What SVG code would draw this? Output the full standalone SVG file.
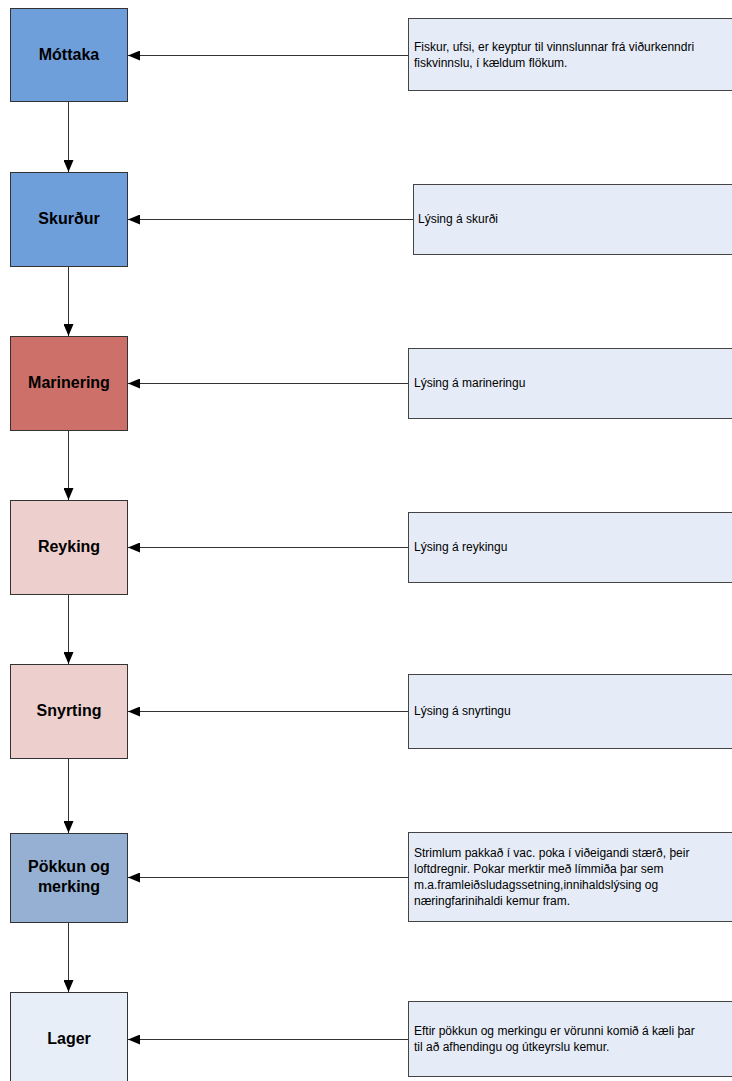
<svg xmlns="http://www.w3.org/2000/svg" width="732" height="1081" viewBox="0 0 732 1081">
<style>
.node{stroke:#333;stroke-width:1}
.desc{fill:#e6ecf7;stroke:#444;stroke-width:1}
.lbl{font-family:"Liberation Sans",Arial,sans-serif;font-weight:bold;font-size:16px;fill:#000;text-anchor:middle}
.txt{font-family:"Liberation Sans",Arial,sans-serif;font-size:12px;fill:#000}
.con{stroke:#333;stroke-width:1;fill:none;marker-end:url(#ah)}
</style>
<defs>
<marker id="ah" markerWidth="12" markerHeight="10" refX="12" refY="5" orient="auto" markerUnits="userSpaceOnUse">
<path d="M0,0 L12,5 L0,10 z" fill="#000"/>
</marker>
</defs>
<rect width="732" height="1081" fill="#fff"/>
<g id="connectors">
<line class="con" x1="68.5" y1="101" x2="68.5" y2="172"/>
<line class="con" x1="68.5" y1="266" x2="68.5" y2="336"/>
<line class="con" x1="68.5" y1="430" x2="68.5" y2="500"/>
<line class="con" x1="68.5" y1="594" x2="68.5" y2="664"/>
<line class="con" x1="68.5" y1="758" x2="68.5" y2="833"/>
<line class="con" x1="68.5" y1="922" x2="68.5" y2="992"/>
<line class="con" x1="408" y1="55.5" x2="128" y2="55.5"/>
<line class="con" x1="413" y1="219.5" x2="128" y2="219.5"/>
<line class="con" x1="408" y1="383.5" x2="128" y2="383.5"/>
<line class="con" x1="408" y1="547.5" x2="128" y2="547.5"/>
<line class="con" x1="408" y1="711.5" x2="128" y2="711.5"/>
<line class="con" x1="408" y1="877.5" x2="128" y2="877.5"/>
<line class="con" x1="408" y1="1039.5" x2="128" y2="1039.5"/>
</g>
<g id="n1"><rect class="node" x="10.5" y="8.5" width="117" height="93" fill="#6f9fdb"/><text class="lbl" x="69" y="60">Móttaka</text></g>
<g id="n2"><rect class="node" x="10.5" y="172.5" width="117" height="94" fill="#6f9fdb"/><text class="lbl" x="69" y="224">Skurður</text></g>
<g id="n3"><rect class="node" x="10.5" y="336.5" width="117" height="94" fill="#cd706a"/><text class="lbl" x="69" y="388">Marinering</text></g>
<g id="n4"><rect class="node" x="10.5" y="500.5" width="117" height="94" fill="#edcfcd"/><text class="lbl" x="69" y="552">Reyking</text></g>
<g id="n5"><rect class="node" x="10.5" y="664.5" width="117" height="94" fill="#edcfcd"/><text class="lbl" x="69" y="716">Snyrting</text></g>
<g id="n6"><rect class="node" x="10.5" y="833.5" width="117" height="89" fill="#95b0d2"/><text class="lbl" x="69" y="872">Pökkun og</text><text class="lbl" x="69" y="892">merking</text></g>
<g id="n7"><rect class="node" x="10.5" y="992.5" width="117" height="100" fill="#e8eef8"/><text class="lbl" x="69" y="1044">Lager</text></g>
<g id="d1"><rect class="desc" x="408.5" y="18.5" width="330" height="72"/><text class="txt" x="414" y="51">Fiskur, ufsi, er keyptur til vinnslunnar frá viðurkenndri</text><text class="txt" x="414" y="67">fiskvinnslu, í kældum flökum.</text></g>
<g id="d2"><rect class="desc" x="413.5" y="184.5" width="330" height="70"/><text class="txt" x="418" y="223">Lýsing á skurði</text></g>
<g id="d3"><rect class="desc" x="408.5" y="348.5" width="330" height="70"/><text class="txt" x="414" y="387">Lýsing á marineringu</text></g>
<g id="d4"><rect class="desc" x="408.5" y="512.5" width="330" height="70"/><text class="txt" x="414" y="551">Lýsing á reykingu</text></g>
<g id="d5"><rect class="desc" x="408.5" y="674.5" width="330" height="74"/><text class="txt" x="414" y="715">Lýsing á snyrtingu</text></g>
<g id="d6"><rect class="desc" x="408.5" y="832.5" width="330" height="89"/><text class="txt" x="414" y="857">Strimlum pakkað í vac. poka í viðeigandi stærð, þeir</text><text class="txt" x="414" y="873">loftdregnir. Pokar merktir með límmiða þar sem</text><text class="txt" x="414" y="889">m.a.framleiðsludagssetning,innihaldslýsing og</text><text class="txt" x="414" y="905">næringfarinihaldi kemur fram.</text></g>
<g id="d7"><rect class="desc" x="408.5" y="1001.5" width="330" height="75"/><text class="txt" x="414" y="1035">Eftir pökkun og merkingu er vörunni komið á kæli þar</text><text class="txt" x="414" y="1051">til að afhendingu og útkeyrslu kemur.</text></g>
</svg>
